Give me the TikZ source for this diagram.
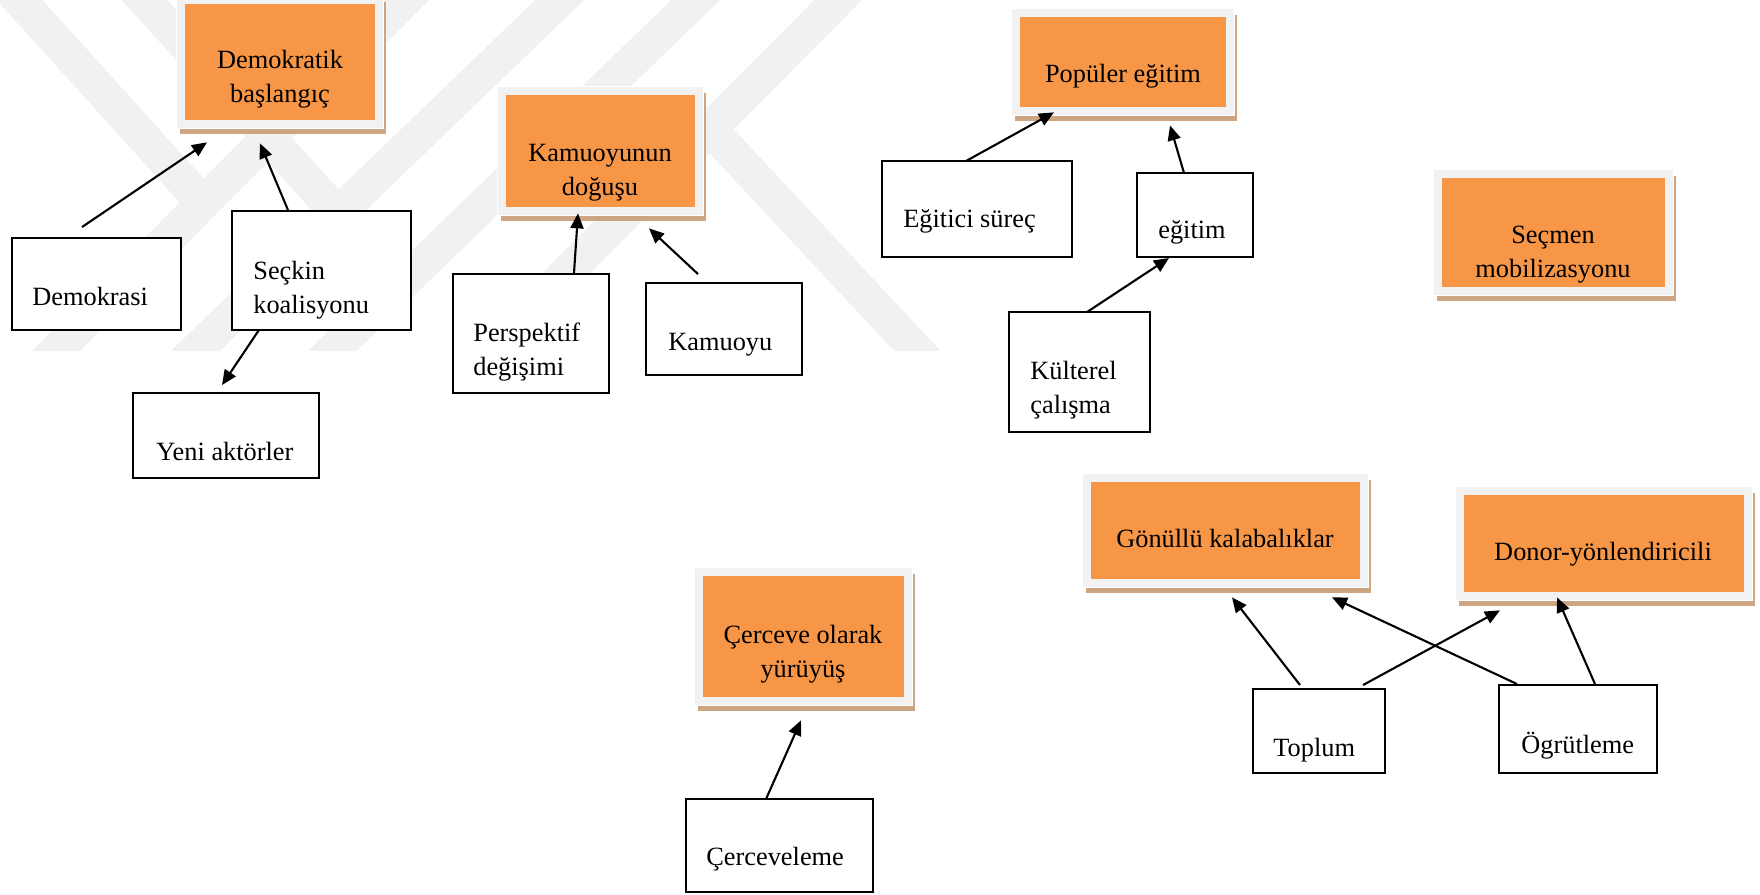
\documentclass[tikz,border=0pt]{standalone}
\usepackage{fontspec}
\setmainfont{Liberation Serif}
\usetikzlibrary{arrows.meta}
\definecolor{boxorange}{HTML}{F79646}
\definecolor{framegray}{HTML}{F2F2F2}
\definecolor{shadowtan}{RGB}{205,165,130}
\definecolor{markgray}{RGB}{241,241,241}
\tikzset{
  plainbox/.style={draw=black, line width=1.1pt, fill=white, inner sep=0pt},
  orangebox/.style={fill=boxorange, inner sep=0pt,
    preaction={draw=shadowtan, fill=shadowtan, line width=0.32cm,
      transform canvas={shift={(0.06cm,-0.12cm)}}},
    preaction={draw=white, line width=0.36cm},
    preaction={draw=framegray, line width=0.32cm}},
  words/.style={inner sep=0pt, font=\fontsize{15}{19.3}\selectfont},
  link/.style={line width=1.2pt, -{Triangle[length=0.3cm, width=0.26cm]}},
  band/.style={markgray, line width=0.68cm}
}
\begin{document}
\begin{tikzpicture}[x=0.02cm, y=-0.02cm]
\useasboundingbox (0,0) rectangle (1760,894);

% watermark in the back
\begin{scope}
  \clip (0,0) rectangle (1000,350);
  \draw[band] (440,-35) -- (22,385);
  \draw[band] (596,-35) -- (160,385);
  \draw[band] (732,-35) -- (297,385);
  \draw[band] (873,-35) -- (455,385);
  \draw[band] (-12,-35) -- (203,203);
  \draw[band] (113,-35) -- (338,214);
  \draw[band] (700,118) -- (949,385);
\end{scope}

% orange boxes
\node[orangebox, minimum width=3.8cm, minimum height=2.32cm] (demo) at (280,62) {};
\node[orangebox, minimum width=3.78cm, minimum height=2.24cm] (kam) at (600.5,151) {};
\node[orangebox, minimum width=4.12cm, minimum height=1.8cm] (pop) at (1123,62) {};
\node[orangebox, minimum width=4.46cm, minimum height=2.18cm] (sec) at (1553.5,232.5) {};
\node[orangebox, minimum width=5.38cm, minimum height=1.94cm] (gon) at (1225.5,530.5) {};
\node[orangebox, minimum width=5.6cm, minimum height=1.94cm] (don) at (1604,543.5) {};
\node[orangebox, minimum width=4.02cm, minimum height=2.42cm] (cer) at (803.5,636.5) {};

% two-line texts sit on the baseline of their last line
\node[words, anchor=base, align=center] (demoT) at (280,102) {Demokratik\\başlangıç};
\node[words, anchor=base, align=center] (kamT) at (600,195) {Kamuoyunun\\doğuşu};
\node[words, anchor=base] (popT) at (1123,82) {Popüler eğitim};
\node[words, anchor=base, align=center] (secT) at (1553,277) {Seçmen\\mobilizasyonu};
\node[words, anchor=base] (gonT) at (1225,547) {Gönüllü kalabalıklar};
\node[words, anchor=base] (donT) at (1603,560) {Donor-yönlendiricili};
\node[words, anchor=base, align=center] (cerT) at (803,677) {Çerceve olarak\\yürüyüş};

% white boxes
\node[plainbox, minimum width=3.38cm, minimum height=1.84cm] (dem) at (96.5,284) {};
\node[plainbox, minimum width=3.58cm, minimum height=2.38cm] (sek) at (321.5,270.5) {};
\node[plainbox, minimum width=3.72cm, minimum height=1.7cm] (yeni) at (226,435.5) {};
\node[plainbox, minimum width=3.12cm, minimum height=2.38cm] (per) at (531,333.5) {};
\node[plainbox, minimum width=3.12cm, minimum height=1.84cm] (kmy) at (724,329) {};
\node[plainbox, minimum width=3.8cm, minimum height=1.92cm] (egs) at (977,209) {};
\node[plainbox, minimum width=2.32cm, minimum height=1.68cm] (egt) at (1195,215) {};
\node[plainbox, minimum width=2.82cm, minimum height=2.4cm] (kul) at (1079.5,372) {};
\node[plainbox, minimum width=3.74cm, minimum height=1.86cm] (cvl) at (779.5,845.5) {};
\node[plainbox, minimum width=2.64cm, minimum height=1.68cm] (top) at (1319,731) {};
\node[plainbox, minimum width=3.16cm, minimum height=1.76cm] (org) at (1578,729) {};

\node[words, anchor=base west] (demT) at (32,305) {Demokrasi};
\node[words, anchor=base west, align=left] (sekT) at (253,313) {Seçkin\\koalisyonu};
\node[words, anchor=base west] (yeniT) at (156,460) {Yeni aktörler};
\node[words, anchor=base west, align=left] (perT) at (473,375) {Perspektif\\değişimi};
\node[words, anchor=base west] (kmyT) at (668,350) {Kamuoyu};
\node[words, anchor=base west] (egsT) at (903,227) {Eğitici süreç};
\node[words, anchor=base west] (egtT) at (1158,238) {eğitim};
\node[words, anchor=base west, align=left] (kulT) at (1030,413) {Külterel\\çalışma};
\node[words, anchor=base west] (cvlT) at (706,865) {Çerceveleme};
\node[words, anchor=base west] (topT) at (1273,756) {Toplum};
\node[words, anchor=base west] (orgT) at (1521,753) {Ögrütleme};

% arrows
\draw[link] ([shift={(-14.5,-10)}]dem.north) -- ([shift={(-73,22)}]demo.south);
\draw[link] ([shift={(-33.5,0)}]sek.north) -- ([shift={(-20,23)}]demo.south);
\draw[link] ([shift={(-62.5,-1)}]sek.south) -- ([shift={(-4,-7)}]yeni.north);
\draw[link] ([shift={(43,0)}]per.north) -- ([shift={(-22.5,6)}]kam.south);
\draw[link] ([shift={(-26,-8)}]kmy.north) -- ([shift={(48.5,21)}]kam.south);
\draw[link] ([shift={(-11,1)}]egs.north) -- ([shift={(-69,5)}]pop.south);
\draw[link] ([shift={(-11,1)}]egt.north) -- ([shift={(47,18)}]pop.south);
\draw[link] ([shift={(7.5,1)}]kul.north) -- ([shift={(-26,0)}]egt.south);
\draw[link] ([shift={(-13.5,1)}]cvl.north) -- ([shift={(-2.5,23)}]cer.south);
\draw[link] ([shift={(-19,-3)}]top.north) -- ([shift={(6.5,18)}]gon.south);
\draw[link] ([shift={(-61,0)}]org.north) -- ([shift={(106.5,18)}]gon.south);
\draw[link] ([shift={(44,-3)}]top.north) -- ([shift={(-104,18)}]don.south);
\draw[link] ([shift={(17,0)}]org.north) -- ([shift={(-47,5)}]don.south);
\end{tikzpicture}
\end{document}
